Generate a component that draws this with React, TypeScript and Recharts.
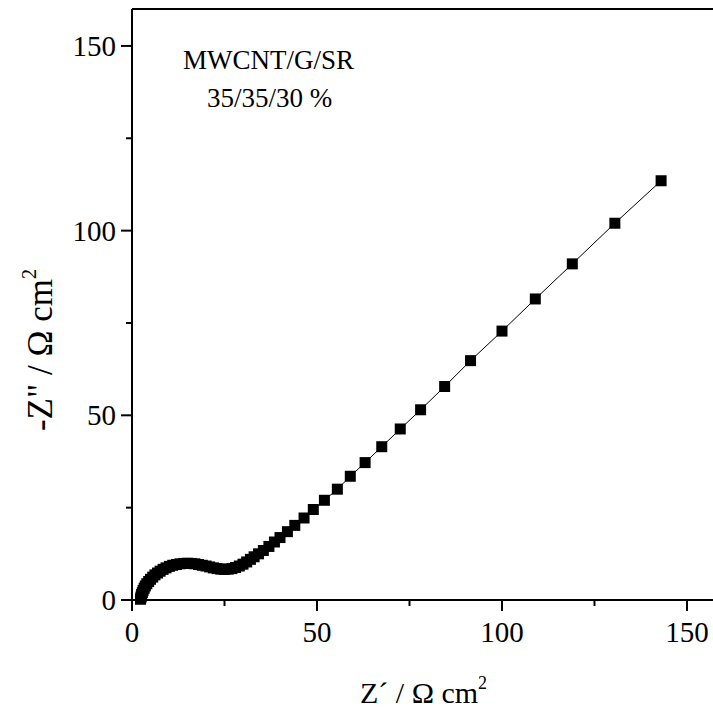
import { ScatterChart, Scatter, XAxis, YAxis, Label, ReferenceLine } from "recharts";

const zReal = [
  2.3, 2.4, 2.5, 2.6, 2.8, 3.0, 3.3, 3.6, 4.0, 4.5, 5.0, 5.6, 6.2, 6.9, 7.6, 8.4,
  9.2, 10.1, 11.0, 12.0, 13.0, 14.0, 15.0, 16.0, 17.0, 18.0, 19.0, 20.0, 21.0, 22.0,
  23.0, 24.0, 25.0, 26.0, 27.0, 28.0, 29.0, 30.0, 31.0, 32.0, 33.0, 34.2, 35.5, 37.0,
  38.5, 40.0, 42.0, 44.0, 46.5, 49.0, 52.0, 55.5, 59.0, 63.0, 67.5, 72.5, 78.0, 84.5,
  91.5, 100.0, 109.0, 119.0, 130.5, 143.0,
];
const zImag = [
  0.2, 0.6, 1.0, 1.5, 2.0, 2.6, 3.2, 3.8, 4.4, 5.0, 5.6, 6.2, 6.8, 7.3, 7.8, 8.3,
  8.7, 9.1, 9.4, 9.6, 9.8, 9.9, 9.95, 9.9, 9.8, 9.6, 9.4, 9.2, 8.95, 8.7,
  8.5, 8.35, 8.3, 8.35, 8.5, 8.8, 9.2, 9.7, 10.3, 11.0, 11.7, 12.5, 13.4, 14.5,
  15.7, 16.9, 18.5, 20.2, 22.2, 24.5, 27.0, 30.0, 33.5, 37.2, 41.5, 46.3, 51.5, 57.8,
  64.8, 72.8, 81.5, 91.0, 102.0, 113.5,
];
const xTicks = [0, 25, 50, 75, 100, 125, 150];
const yTicks = [0, 25, 50, 75, 100, 125, 150];
const sampleLines = ["MWCNT/G/SR", "35/35/30 %"];

const points = zReal.map((x, i) => ({ x, y: zImag[i] }));

const FONT = "'Liberation Serif', 'Times New Roman', serif";

function XTick({ x, y, payload }: any) {
  const major = payload.value % 50 === 0;
  return (
    <g>
      <line x1={x} y1={y} x2={x} y2={y + (major ? 11 : 6)} stroke="#000" strokeWidth={2} />
      {major && (
        <text x={x} y={y + 42} textAnchor="middle" fontFamily={FONT} fontSize={29} fill="#000">
          {payload.value}
        </text>
      )}
    </g>
  );
}

function YTick({ x, y, payload }: any) {
  const major = payload.value % 50 === 0;
  return (
    <g>
      <line x1={x} y1={y} x2={x - (major ? 11 : 6)} y2={y} stroke="#000" strokeWidth={2} />
      {major && (
        <text x={x - 16} y={y + 10} textAnchor="end" fontFamily={FONT} fontSize={29} fill="#000">
          {payload.value}
        </text>
      )}
    </g>
  );
}

function Square({ cx, cy }: any) {
  return <rect x={cx - 5.5} y={cy - 5.5} width={11} height={11} fill="#000" />;
}

export default function App() {
  return (
    <div style={{ position: "fixed", left: 0, top: 0, width: 713, height: 711, overflow: "hidden", background: "#fff" }}>
      <ScatterChart width={740} height={711} margin={{ top: 9, right: 16, bottom: 0, left: 0 }}>
        <XAxis
          xAxisId="b" type="number" dataKey="x" domain={[0, 160]} ticks={xTicks} interval={0}
          tick={<XTick />} tickLine={false} tickSize={0} tickMargin={0} height={111}
          axisLine={{ stroke: "#000", strokeWidth: 2 }}
        >
          <Label
            content={() => (
              <text x={360} y={703} fontFamily={FONT} fontSize={30} fill="#000">
                {"Z´ / Ω cm"}
                <tspan dy={-14} fontSize={18}>2</tspan>
              </text>
            )}
          />
        </XAxis>
        <YAxis
          yAxisId="l" type="number" dataKey="y" domain={[0, 160]} ticks={yTicks} interval={0}
          tick={<YTick />} tickLine={false} tickSize={0} tickMargin={0} width={132}
          axisLine={{ stroke: "#000", strokeWidth: 2 }}
        >
          <Label
            content={() => (
              <text
                x={52} y={350} transform="rotate(-90, 52, 350)" textAnchor="middle"
                fontFamily={FONT} fontSize={35} fill="#000"
              >
                {'-Z" / Ω cm'}
                <tspan dy={-16} fontSize={20}>2</tspan>
              </text>
            )}
          />
        </YAxis>
        <ReferenceLine xAxisId="b" yAxisId="l" y={160} stroke="#000" strokeWidth={2} ifOverflow="visible">
          <Label
            content={() => (
              <g fontFamily={FONT} fontSize={27} fill="#000">
                <text x={183} y={69}>{sampleLines[0]}</text>
                <text x={207} y={107}>{sampleLines[1]}</text>
              </g>
            )}
          />
        </ReferenceLine>
        <Scatter
          xAxisId="b" yAxisId="l" data={points} fill="#000" shape={<Square />}
          line={{ stroke: "#000", strokeWidth: 1 }} lineType="joint" isAnimationActive={false}
        />
      </ScatterChart>
    </div>
  );
}
